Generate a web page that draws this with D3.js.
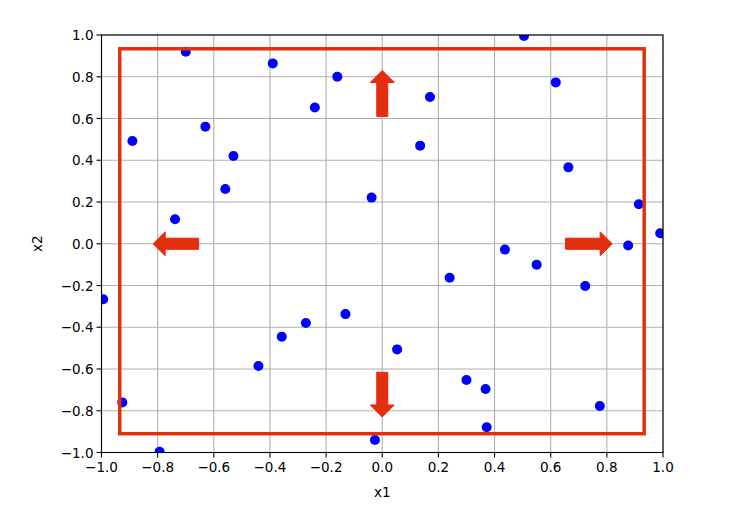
<!DOCTYPE html>
<html><head><meta charset="utf-8">
<script src="https://cdn.jsdelivr.net/npm/d3@7"></script>
<style>body{margin:0;background:#fff}svg{display:block}text{font-family:"DejaVu Sans",sans-serif}</style>
</head><body><svg id="c" width="729" height="527"></svg>
<script>
const x1Values = [-0.70,-0.39,-0.63,-0.89,-0.53,-0.16,-0.24,0.17,0.135,0.505,0.618,0.663,-0.559,-0.738,-0.994,-0.038,0.240,-0.131,-0.272,0.914,0.990,0.437,0.550,0.876,0.723,-0.358,-0.441,-0.926,-0.793,0.053,0.300,-0.026,0.368,0.372,0.775];
const x2Values = [0.92,0.864,0.561,0.492,0.420,0.80,0.653,0.703,0.470,0.995,0.773,0.366,0.262,0.117,-0.266,0.221,-0.163,-0.337,-0.38,0.189,0.050,-0.028,-0.100,-0.008,-0.202,-0.445,-0.586,-0.760,-0.996,-0.506,-0.653,-0.940,-0.696,-0.879,-0.777];
const xTicks = [-1.0,-0.8,-0.6,-0.4,-0.2,0.0,0.2,0.4,0.6,0.8,1.0];
const yTicks = [-1.0,-0.8,-0.6,-0.4,-0.2,0.0,0.2,0.4,0.6,0.8,1.0];
const boxX = [-0.935, 0.933];
const boxY = [-0.910, 0.934];
const arrowFrom = [[0,0.61],[0,-0.616],[-0.654,0],[0.653,0]];
const arrowTo = [[0,0.83],[0,-0.83],[-0.816,0],[0.819,0]];

const svg = d3.select("#c");
const L=101.5, R=663, T=35, B=452.5;
const x = d3.scaleLinear().domain([-1,1]).range([L,R]);
const y = d3.scaleLinear().domain([-1,1]).range([B,T]);
const fmt = d => d3.format(".1f")(d).replace("-","\u2212");

// grid
const g = svg.append("g");
g.selectAll(".gx").data(xTicks).join("line").attr("x1",d=>x(d)).attr("x2",d=>x(d)).attr("y1",T).attr("y2",B).attr("stroke","#b0b0b0").attr("stroke-width",1.1);
g.selectAll(".gy").data(yTicks).join("line").attr("y1",d=>y(d)).attr("y2",d=>y(d)).attr("x1",L).attr("x2",R).attr("stroke","#b0b0b0").attr("stroke-width",1.1);

svg.append("defs").append("clipPath").attr("id","clip").append("rect").attr("x",L).attr("y",T).attr("width",R-L).attr("height",B-T);

// points
svg.append("g").attr("clip-path","url(#clip)").selectAll("circle").data(x1Values.map((v,i)=>[v,x2Values[i]])).join("circle")
  .attr("cx",d=>x(d[0])).attr("cy",d=>y(d[1])).attr("r",5).attr("fill","#0000ff");

// box
svg.append("rect").attr("x",x(boxX[0])).attr("y",y(boxY[1])).attr("width",x(boxX[1])-x(boxX[0])).attr("height",y(boxY[0])-y(boxY[1]))
  .attr("fill","none").attr("stroke","#e0300e").attr("stroke-width",3.5);

// arrows
const sw=5.5, hw=12, hl=12;
arrowFrom.forEach((f,i)=>{
  const t=arrowTo[i];
  const x0=x(f[0]), y0=y(f[1]), xe=x(t[0]), ye=y(t[1]);
  const dx=xe-x0, dy=ye-y0, len=Math.hypot(dx,dy), ux=dx/len, uy=dy/len, px=-uy, py=ux;
  const hb=len-hl;
  const P=(a,b)=>[x0+ux*a+px*b, y0+uy*a+py*b];
  const pts=[P(0,-sw),P(hb,-sw),P(hb,-hw),P(len,0),P(hb,hw),P(hb,sw),P(0,sw)];
  svg.append("polygon").attr("points",pts.map(p=>p.join(",")).join(" ")).attr("fill","#e0300e").attr("stroke","#ff1a0a").attr("stroke-width",1);
});

// spines
svg.append("rect").attr("x",L).attr("y",T).attr("width",R-L).attr("height",B-T).attr("fill","none").attr("stroke","#000").attr("stroke-width",1.1);

// ticks
const ax = svg.append("g");
xTicks.forEach(d=>{
  ax.append("line").attr("x1",x(d)).attr("x2",x(d)).attr("y1",B).attr("y2",B+5).attr("stroke","#000").attr("stroke-width",1.1);
  ax.append("text").attr("x",x(d)).attr("y",B+19).attr("text-anchor","middle").attr("font-size",13.5).text(fmt(d));
});
yTicks.forEach(d=>{
  ax.append("line").attr("x1",L-5).attr("x2",L).attr("y1",y(d)).attr("y2",y(d)).attr("stroke","#000").attr("stroke-width",1.1);
  ax.append("text").attr("x",L-8).attr("y",y(d)+5).attr("text-anchor","end").attr("font-size",13.5).text(fmt(d));
});
svg.append("text").attr("x",(L+R)/2).attr("y",497).attr("text-anchor","middle").attr("font-size",13.5).text("x1");
svg.append("text").attr("transform",`translate(41.5,${(T+B)/2}) rotate(-90)`).attr("text-anchor","middle").attr("font-size",13.5).text("x2");
</script></body></html>
